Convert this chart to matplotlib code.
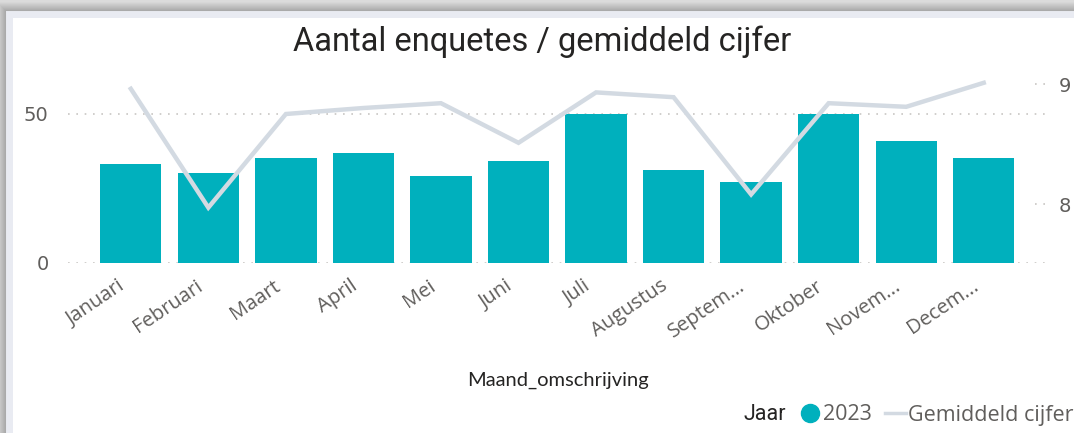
import numpy as np
import matplotlib
matplotlib.use("Agg")
from matplotlib import pyplot as plt
from matplotlib.lines import Line2D
from matplotlib.patches import Rectangle
from matplotlib.transforms import ScaledTranslation

maanden = ['Januari', 'Februari', 'Maart', 'April', 'Mei', 'Juni', 'Juli',
           'Augustus', 'Septem...', 'Oktober', 'Novem...', 'Decem...']
aantal_2023 = [33, 30, 35, 37, 29, 34, 50, 31, 27, 50, 41, 35]
gem_cijfer = [8.96, 7.97, 8.75, 8.80, 8.84, 8.51, 8.93, 8.89, 8.08, 8.84, 8.81, 9.01]
left_ticks = [0, 50]
right_ticks = [8, 9]

TEAL = '#00B0BD'
LINE = '#d3dae2'
GREY = '#605e5c'
DARK = '#252423'

W, H = 1074, 433
fig = plt.figure(figsize=(W / 100, H / 100), dpi=100)
fig.patch.set_facecolor('white')

# screenshot shadow round the visual
bg = fig.add_axes([0, 0, 1, 1], zorder=-10)
yy, xx = np.mgrid[0:H, 0:W]
d = np.maximum(9 - xx, 14 - yy).astype(float)
shade = np.where(d > 0, 0.58 + 0.022 * d, 1.0)
shade = np.clip(shade, 0, 0.86)
bg.imshow(np.dstack([shade] * 3), aspect='auto', extent=(0, W, H, 0))
bg.add_patch(Rectangle((9, 14), W, H, facecolor='white', edgecolor='#e9ebf2', lw=5))
bg.set_xlim(0, W)
bg.set_ylim(H, 0)
bg.axis('off')

ax = fig.add_axes([68 / W, 1 - 263 / H, 977 / W, (263 - 70) / H])
ax.patch.set_alpha(0)
x = np.arange(len(maanden))
ax.bar(x, aantal_2023, width=0.79, color=TEAL, zorder=2)
ax.set_xlim(-0.81, len(maanden) - 1 + 0.79)
ax.set_ylim(0, (263 - 70) / 2.986)
ax.set_yticks(left_ticks)
ax.set_yticklabels([str(t) for t in left_ticks])
for t in left_ticks:
    ax.axhline(t, color='#c8c6c4', lw=1.2, ls=(0, (1, 4)), zorder=1)

# month labels: slanted, set a bit left of the bar centre like Power BI does
ax.set_xticks(x)
ax.set_xticklabels([])
lab_trans = ax.get_xaxis_transform() + ScaledTranslation(-0.13, -0.13, fig.dpi_scale_trans)
for i, m in zip(x, maanden):
    ax.text(i, 0, m, transform=lab_trans, rotation=34, rotation_mode='anchor',
            ha='right', va='top', fontsize=14.5, color=GREY, family='Open Sans')
ax.tick_params(axis='x', length=0)
ax.tick_params(axis='y', length=0, pad=14, labelsize=14, labelcolor=GREY)
for s in ax.spines.values():
    s.set_visible(False)
ax.set_xlabel('Maand_omschrijving', fontsize=14.5, color=DARK, family='Lato',
              va='center')
ax.xaxis.set_label_coords(0.502, -(380 - 263) / 193)

ax2 = ax.twinx()
ax2.plot(x, gem_cijfer, color=LINE, lw=3.2, zorder=3, solid_joinstyle='miter')
ax2.set_ylim(8 - 59 / 120, 9 + 14 / 120)
ax2.set_yticks(right_ticks)
ax2.set_yticklabels([str(t) for t in right_ticks])
for t in right_ticks:
    ax2.axhline(t, xmin=0.99, xmax=1.0, color='#c8c6c4', lw=1.2, ls=(0, (1, 4)))
ax2.tick_params(axis='y', length=0, pad=10, labelsize=14, labelcolor=GREY)
for s in ax2.spines.values():
    s.set_visible(False)

fig.text(0.5045, 1 - 42 / H, 'Aantal enquetes / gemiddeld cijfer', ha='center',
         va='center', fontsize=23.5, color=DARK, family='Roboto')

handles = [Line2D([], [], lw=0),
           Line2D([], [], marker='o', ms=13, color=TEAL, lw=0),
           Line2D([], [], color=LINE, lw=2.5)]
leg = fig.legend(handles, ['Jaar', '2023', 'Gemiddeld cijfer'], ncol=3,
                 loc='center right', bbox_to_anchor=(1076 / W, 1 - 415 / H),
                 frameon=False, handlelength=1.0, handletextpad=0.1,
                 columnspacing=0.6, borderaxespad=0, borderpad=0.1,
                 prop={'family': 'Open Sans', 'size': 15.5})
for txt in leg.get_texts():
    txt.set_color(GREY)
leg.get_texts()[0].set_color(DARK)
leg.get_texts()[0].set_family('Roboto')

fig.savefig('out.png', dpi=100)
